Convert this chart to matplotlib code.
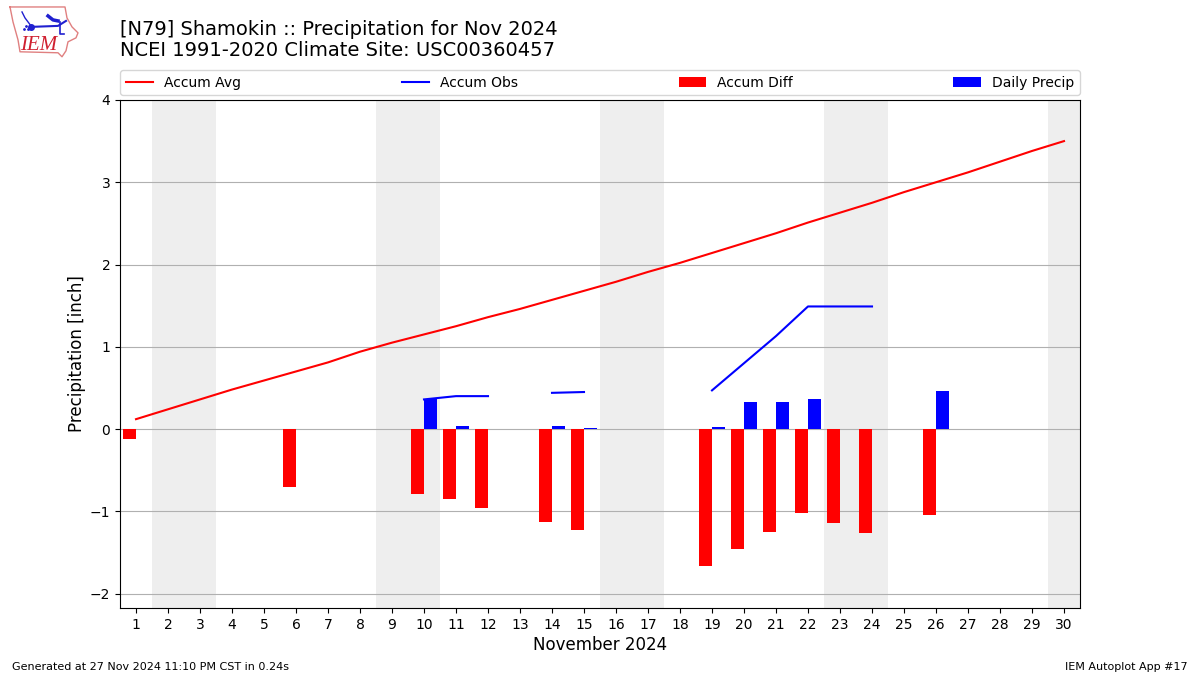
import numpy as np
import matplotlib
matplotlib.use("Agg")
import matplotlib.pyplot as plt

nan = np.nan

# day of month
days = np.arange(1, 31)
# values in inch
accum_avg = [0.12, 0.24, 0.36, 0.48, 0.59, 0.70, 0.81, 0.94, 1.05, 1.15,
             1.25, 1.36, 1.46, 1.57, 1.68, 1.79, 1.91, 2.02, 2.14, 2.26,
             2.38, 2.51, 2.63, 2.75, 2.88, 3.00, 3.12, 3.25, 3.38, 3.50]
accum_obs = [nan, nan, nan, nan, nan, nan, nan, nan, nan, 0.36,
             0.40, 0.40, nan, 0.44, 0.45, nan, nan, nan, 0.47, 0.80,
             1.13, 1.49, 1.49, 1.49, nan, nan, nan, nan, nan, nan]
accum_diff = [-0.12, 0, 0, 0, 0, -0.70, 0, 0, 0, -0.79,
              -0.85, -0.96, 0, -1.13, -1.23, 0, 0, 0, -1.66, -1.46,
              -1.25, -1.02, -1.14, -1.26, 0, -1.04, 0, 0, 0, 0]
daily_precip = [0, 0, 0, 0, 0, 0, 0, 0, 0, 0.37,
                0.04, 0, 0, 0.04, 0.01, 0, 0, 0, 0.03, 0.33,
                0.33, 0.37, 0, 0, 0, 0.46, 0, 0, 0, 0]
weekend_starts = [2, 9, 16, 23, 30]

title_lines = ["[N79] Shamokin :: Precipitation for Nov 2024",
               "NCEI 1991-2020 Climate Site: USC00360457"]

fig = plt.figure(figsize=(12, 6.75), dpi=100)
ax = fig.add_axes([0.1, 0.0993, 0.8, 0.7526])

# weekend shading
for start in weekend_starts:
    ax.axvspan(start - 0.5, start + 1.5, color="#eeeeee", lw=0, zorder=0)

ax.bar(days, accum_diff, width=-0.4, align="edge", color="r", label="Accum Diff", zorder=3)
ax.bar(days, daily_precip, width=0.4, align="edge", color="b", label="Daily Precip", zorder=3)
ax.plot(days, accum_avg, color="r", lw=1.5, label="Accum Avg", zorder=4)
ax.plot(days, accum_obs, color="b", lw=1.5, label="Accum Obs", zorder=4)

ax.set_xlim(0.5, 30.5)
ax.set_ylim(-2.175, 4)
ax.set_xticks(days)
ax.set_yticks([-2, -1, 0, 1, 2, 3, 4])
ax.grid(True, axis="y", color="#b0b0b0", lw=0.8, zorder=1)
ax.set_axisbelow(True)
ax.set_xlabel("November 2024", fontsize=12, labelpad=3)
ax.set_ylabel("Precipitation [inch]", fontsize=12, labelpad=3)
ax.tick_params(labelsize=10)

ax.legend(bbox_to_anchor=(0, 1.0095, 1, 0.06), loc="lower left", ncol=4,
          mode="expand", borderaxespad=0, fontsize=10)

fig.text(0.1, 0.957, title_lines[0], fontsize=14, va="center")
fig.text(0.1, 0.9245, title_lines[1], fontsize=14, va="center")
fig.text(0.01, 0.0046, "Generated at 27 Nov 2024 11:10 PM CST in 0.24s", fontsize=8, va="bottom")
fig.text(0.99, 0.0046, "IEM Autoplot App #17", fontsize=8, ha="right", va="bottom")

# logo, rough redraw in pixel coordinates
logo = fig.add_axes([0, 0.91, 0.075, 0.09])
logo.set_xlim(0, 90)
logo.set_ylim(61, 0)
logo.axis("off")
outline_x = [10, 65, 67, 72, 78, 76, 68, 66, 62, 58, 20, 18, 13, 10]
outline_y = [7, 7, 18, 27, 33, 38, 42, 51, 57, 53, 52, 40, 22, 7]
logo.plot(outline_x, outline_y, color="#e08080", lw=1)
logo.plot([31, 58, 66], [27, 26, 21], color="#2020d0", lw=1.5)
logo.plot([60, 60, 64], [22, 34, 34], color="#2020d0", lw=1.2)
logo.plot([22, 25, 31], [12, 18, 26], color="#2020d0", lw=1)
logo.plot([48, 53, 58], [16, 20, 21], color="#2020d0", lw=2.5)
logo.plot([31], [27], "o", color="#2020d0", ms=4)
logo.plot([24, 26, 28], [29, 26, 29], ".", color="#2020d0", ms=2)
logo.text(20, 46, "IEM", color="#d02030", fontsize=15, family="Liberation Serif",
          style="italic", va="center")

fig.savefig("out.png", dpi=100)
